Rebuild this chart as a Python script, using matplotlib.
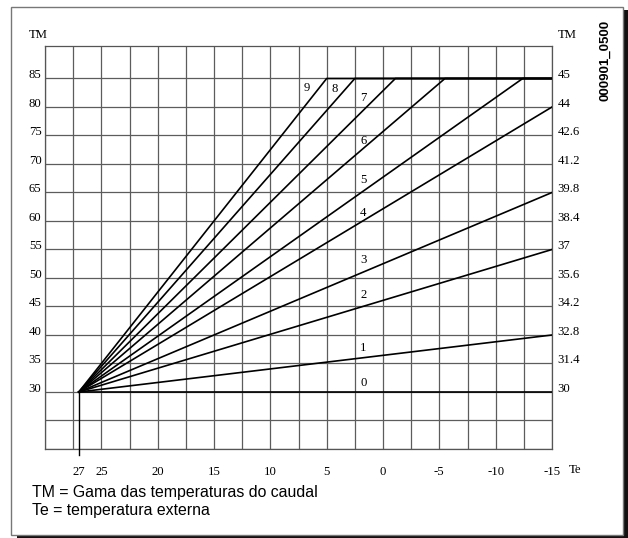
import numpy as np
import matplotlib.pyplot as plt
from matplotlib.patches import Rectangle

# heating curves: all start at (27, 30), rise to an end point, then stay at 85
curve_ids = ['0', '1', '2', '3', '4', '5', '6', '7', '8', '9']
start_te, start_tm = 27, 30
end_te = [-15, -15, -15, -15, -15, -12.4, -5.5, -1.1, 2.5, 5]
end_tm = [30, 40, 55, 65, 80, 85, 85, 85, 85, 85]
tm_cap = 85
te_min = -15

# curve number labels (Te, TM)
label_te = [1.75, 1.75, 1.75, 1.75, 1.75, 1.75, 1.75, 1.75, 4.3, 6.8]
label_tm = [31.6, 37.7, 47.0, 53.2, 61.4, 67.2, 74.0, 81.5, 83.1, 83.3]

left_ticks = [30, 35, 40, 45, 50, 55, 60, 65, 70, 75, 80, 85]
right_labels = ['30', '31.4', '32.8', '34.2', '35.6', '37', '38.4', '39.8',
                '41.2', '42.6', '44', '45']
x_ticks = [27, 25, 20, 15, 10, 5, 0, -5, -10, -15]

W, H = 628, 538
fig = plt.figure(figsize=(W / 100, H / 100), dpi=100)
fig.patch.set_facecolor('white')


def px(x, y):
    return x / W, 1 - y / H


# frame with drop shadow
fig.patches.append(Rectangle(px(17, 538), (628 - 17) / W, (538 - 10) / H,
                             transform=fig.transFigure, facecolor='#111111',
                             edgecolor='none', zorder=-3))
fig.patches.append(Rectangle(px(11, 535), (622.5 - 11) / W, (535 - 6.5) / H,
                             transform=fig.transFigure, facecolor='white',
                             edgecolor='#777777', linewidth=1.0, zorder=-2))

l, b = px(45, 449)
r, t = px(552, 46)
ax = fig.add_axes([l, b, r - l, t - b])
ax.set_xlim(30, -15)
ax.set_ylim(20, 90.7)

serif = 'Liberation Serif'
fs = 9.2

# grid (keep minor lines even where they sit on a labelled tick)
ax.xaxis.remove_overlapping_locs = False
ax.yaxis.remove_overlapping_locs = False
ax.set_xticks(np.arange(-15, 30.1, 2.5), minor=True)
ax.set_yticks(np.arange(20, 86, 5), minor=True)
ax.grid(which='minor', color='#5c5c5c', linewidth=0.9)
ax.grid(which='major', visible=False)
ax.tick_params(which='both', length=0)
for s in ax.spines.values():
    s.set_color('#555555')
    s.set_linewidth(0.9)

ax.set_xticks(x_ticks)
ax.set_xticklabels([str(v) for v in x_ticks], fontfamily=serif, fontsize=fs)
ax.tick_params(axis='x', pad=12)
ax.set_yticks(left_ticks)
ax.set_yticklabels([str(v) for v in left_ticks], fontfamily=serif, fontsize=fs)
ax.tick_params(axis='y', pad=2.5)
for lab in ax.get_yticklabels():
    lab.set_verticalalignment('baseline')

ax2 = ax.twinx()
ax2.set_ylim(ax.get_ylim())
ax2.set_yticks(left_ticks)
ax2.set_yticklabels(right_labels, fontfamily=serif, fontsize=fs)
ax2.tick_params(axis='y', length=0, pad=4)
for lab in ax2.get_yticklabels():
    lab.set_verticalalignment('baseline')
for s in ax2.spines.values():
    s.set_visible(False)

# curves
for cid, te, tm, lt, lm in zip(curve_ids, end_te, end_tm, label_te, label_tm):
    xs = [start_te, te]
    ys = [start_tm, tm]
    if tm == tm_cap and te > te_min:
        xs.append(te_min)
        ys.append(tm_cap)
    ax.plot(xs, ys, color='black', linewidth=1.2, zorder=3)
    ax.text(lt, lm, cid, fontfamily=serif, fontsize=fs, ha='center',
            va='center', zorder=4)

# vertical marker at 27 down past the axis
ax.plot([start_te, start_te], [start_tm, 18.95], color='black',
        linewidth=1.0, clip_on=False, zorder=3)

# axis titles
fig.text(*px(29, 37.5), 'TM', fontfamily=serif, fontsize=fs, va='baseline')
fig.text(*px(558, 37.5), 'TM', fontfamily=serif, fontsize=fs, va='baseline')
fig.text(*px(569, 470), 'Te', fontfamily=serif, fontsize=fs, va='center')
fig.text(*px(605, 60), '000901_0500', fontfamily='Liberation Sans',
         fontweight='bold', fontsize=9.5, rotation=90, ha='center',
         va='center')

fig.text(*px(32, 496.5), 'TM = Gama das temperaturas do caudal',
         fontfamily='Liberation Sans', fontsize=11.4, va='baseline')
fig.text(*px(32, 514.5), 'Te = temperatura externa',
         fontfamily='Liberation Sans', fontsize=11.4, va='baseline')

fig.savefig('out.png', dpi=100)
